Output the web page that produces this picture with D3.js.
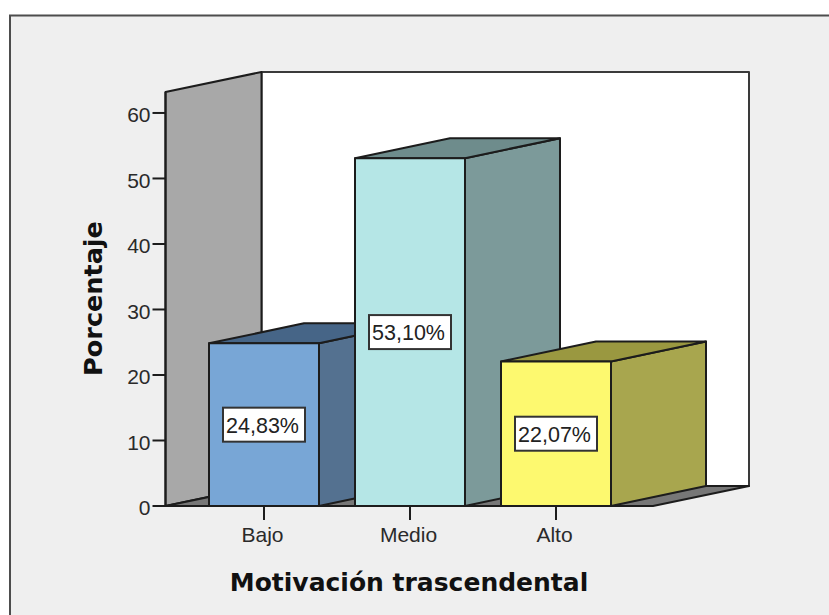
<!DOCTYPE html>
<html>
<head>
<meta charset="utf-8">
<script src="https://cdn.jsdelivr.net/npm/d3@7/dist/d3.min.js"></script>
<style>
html, body { margin: 0; padding: 0; background: #fff; overflow: hidden; }
svg { display: block; }
</style>
</head>
<body>
<script>
// Motivación trascendental: percentage of respondents per level
const categories = ["Bajo", "Medio", "Alto"];
const percentages = [24.83, 53.10, 22.07];
const yTicks = [0, 10, 20, 30, 40, 50, 60];
const frontColors = ["#78a6d6", "#b5e6e6", "#fdf96f"];
const sideColors = ["#547190", "#7c9a9a", "#a8a64e"];
const topColors = ["#466587", "#6e8c8c", "#9a9840"];

const width = 829, height = 615;
const depthX = 96, depthY = -20;     // oblique offset of the 3D box
const barDepthX = 95;
const plotLeft = 165.5, plotRight = 653;
const baseY = 506, topY = 92;
const axisFont = "'Liberation Sans', Arial, sans-serif";
const titleFont = "'DejaVu Sans', Verdana, sans-serif";
const ink = "#1c1c1c";

const svg = d3.select("body").append("svg")
  .attr("width", width).attr("height", height);

const y = d3.scaleLinear().domain([0, 63.2]).range([baseY, topY]);
const x = d3.scaleBand().domain(categories).range([209, 611]).paddingInner(0.2466);
const pct = d3.formatLocale({ decimal: ",", thousands: ".", grouping: [3], currency: ["", ""] }).format(".2f");
const poly = pts => "M" + pts.map(p => p.join(",")).join("L") + "Z";

// Outer panel, open towards the right and bottom edges
svg.append("rect").attr("x", 10).attr("y", 15.5)
  .attr("width", width + 20).attr("height", height + 20)
  .attr("fill", "#efefef").attr("stroke", "#4d4d4d").attr("stroke-width", 2);

// Box walls and floor
const walls = svg.append("g").attr("stroke", ink).attr("stroke-width", 2).attr("stroke-linejoin", "round");
walls.append("rect")
  .attr("x", plotLeft + depthX).attr("y", topY + depthY)
  .attr("width", plotRight - plotLeft).attr("height", baseY - topY)
  .attr("fill", "#fff").attr("stroke", "#3a3a3a");
walls.append("path").attr("fill", "#a8a8a8").attr("d", poly([
  [plotLeft, baseY], [plotLeft, topY], [plotLeft + depthX, topY + depthY], [plotLeft + depthX, baseY + depthY]
]));
walls.append("path").attr("fill", "#777").attr("d", poly([
  [plotLeft, baseY], [plotLeft + depthX, baseY + depthY], [plotRight + depthX, baseY + depthY], [plotRight, baseY]
]));

// Bars, drawn left to right so later ones overlap earlier ones
const bars = svg.append("g").selectAll("g").data(categories).join("g")
  .attr("stroke", ink).attr("stroke-width", 2).attr("stroke-linejoin", "round");
bars.each(function (c, i) {
  const g = d3.select(this);
  const x0 = x(c), x1 = x0 + x.bandwidth(), yv = y(percentages[i]);
  g.append("path").attr("fill", sideColors[i]).attr("d", poly([
    [x1, baseY], [x1, yv], [x1 + barDepthX, yv + depthY], [x1 + barDepthX, baseY + depthY]
  ]));
  g.append("path").attr("fill", topColors[i]).attr("d", poly([
    [x0, yv], [x0 + barDepthX, yv + depthY], [x1 + barDepthX, yv + depthY], [x1, yv]
  ]));
  g.append("rect").attr("x", x0).attr("y", yv)
    .attr("width", x.bandwidth()).attr("height", baseY - yv)
    .attr("fill", frontColors[i]);
});

// Value labels centred on each front face
const boxW = 82, boxH = 34;
const labels = svg.append("g").selectAll("g").data(categories).join("g")
  .attr("transform", (c, i) => `translate(${x(c) + x.bandwidth() / 2},${(y(percentages[i]) + baseY) / 2})`);
labels.append("rect")
  .attr("x", -boxW / 2).attr("y", -boxH / 2).attr("width", boxW).attr("height", boxH)
  .attr("fill", "#fff").attr("stroke", "#333").attr("stroke-width", 2);
labels.append("text")
  .attr("text-anchor", "middle").attr("x", -1.5).attr("y", 8)
  .attr("font-family", axisFont).attr("font-size", 21.5).attr("fill", "#222")
  .text((c, i) => pct(percentages[i]) + "%");

// Axes
const yAxis = svg.append("g").attr("transform", `translate(${plotLeft},0)`)
  .call(d3.axisLeft(y).tickValues(yTicks).tickSize(13).tickPadding(2).tickSizeOuter(0).offset(0));
const xAxis = svg.append("g").attr("transform", `translate(0,${baseY})`)
  .call(d3.axisBottom(x).tickSize(14).tickPadding(7).tickSizeOuter(0).offset(0));
xAxis.select(".domain").remove();
xAxis.append("line").attr("x1", plotLeft).attr("x2", plotRight)
  .attr("stroke", ink).attr("stroke-width", 2);
[yAxis, xAxis].forEach(a => {
  a.selectAll("line, .domain").attr("stroke", ink).attr("stroke-width", 2);
  a.selectAll("text").attr("font-family", axisFont).attr("font-size", 21).attr("fill", "#2a2a2a");
});
yAxis.selectAll("text").attr("dy", "0.45em");
xAxis.selectAll("text").attr("dx", -1.5);

// Axis titles
svg.append("text").attr("x", 409).attr("y", 591).attr("text-anchor", "middle")
  .attr("font-family", titleFont).attr("font-weight", "bold").attr("font-size", 25).attr("fill", "#111")
  .text("Motivación trascendental");
svg.append("text").attr("transform", "translate(102,298.5) rotate(-90)").attr("text-anchor", "middle")
  .attr("font-family", titleFont).attr("font-weight", "bold").attr("font-size", 25.5).attr("fill", "#111")
  .text("Porcentaje");
</script>
</body>
</html>
